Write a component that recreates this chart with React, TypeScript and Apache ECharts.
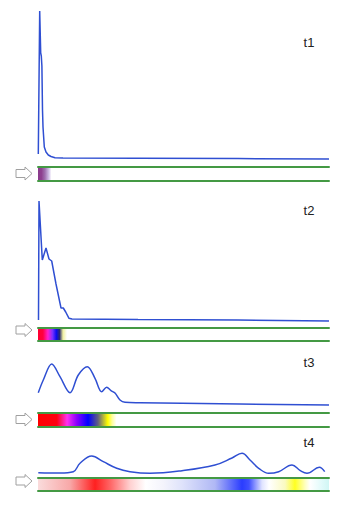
import React, { useEffect, useRef } from "react";
import * as echarts from "echarts";

// ---- data (x: position along the strip, y: intensity) ----
const p1X = [0.3, 1.7, 2.7, 3.3, 3.9, 4.5, 5, 6.3, 8, 10.3, 13, 17, 25, 100, 200, 291];
const p1Y = [6, 149, 107, 104, 94, 50, 33, 13, 8, 5, 3.5, 2.3, 1.9, 1.7, 1.4, 1];

const p2X = [0.5, 1, 4.3, 8, 11, 13.7, 18, 23, 25.3, 27.7, 31, 34, 100, 200, 291];
const p2Y = [2, 121, 62, 74, 63, 61, 38, 14, 14, 10, 3.7, 3, 2.5, 2, 1];

const p3X = [0.3, 5.3, 13.7, 22, 32, 40.3, 49.3, 57, 63.7, 68.7, 73, 77, 82, 87, 102, 144, 291];
const p3Y = [13.3, 26, 42, 29.3, 13.3, 31, 39.3, 27.7, 14.3, 18.7, 15.3, 13, 6, 3.7, 3.3, 2.7, 1];

const p4X = [0.3, 22, 35.3, 42, 53.7, 65.3, 78.7, 92, 112, 144, 177, 194, 204, 212, 220.7, 230.7, 240.7, 254, 262.3, 269, 281.3, 286.7];
const p4Y = [3.3, 3, 4.3, 12.7, 20, 14.3, 7.7, 4.3, 2.7, 5.3, 11, 18, 22.7, 16, 7.7, 2.7, 4.3, 11, 5.3, 2.7, 8.7, 4.3];

const labels = ["t1", "t2", "t3", "t4"];
const yMaxes = [150, 122, 46, 26];
const X_MAX = 291;

const bar1Stops: [number, string][] = [[0, "#8a3a8c"], [0.012, "#8e4090"], [0.024, "#a070b0"], [0.038, "#d4c4ea"], [0.046, "#ffffff"], [1, "#ffffff"]];
const bar2Stops: [number, string][] = [[0, "#ff0030"], [0.017, "#ff0040"], [0.034, "#ff20d0"], [0.05, "#7a30ff"], [0.063, "#0a0af0"], [0.074, "#282870"], [0.086, "#f0f0a0"], [0.1, "#ffffff"], [1, "#ffffff"]];
const bar3Stops: [number, string][] = [[0, "#ff0000"], [0.065, "#ff0010"], [0.1, "#ff30f0"], [0.134, "#8800ff"], [0.172, "#0000ff"], [0.206, "#606080"], [0.24, "#ffff00"], [0.255, "#ffffa0"], [0.27, "#ffffff"], [1, "#ffffff"]];
const bar4Stops: [number, string][] = [[0, "#fadcdc"], [0.11, "#f8a8a8"], [0.196, "#ff2020"], [0.25, "#ff6868"], [0.316, "#ffd0d0"], [0.37, "#ffffff"], [0.43, "#f4f4fc"], [0.495, "#dfe3fb"], [0.608, "#b0b8f5"], [0.701, "#2a3cff"], [0.725, "#4050ff"], [0.77, "#e0e4ff"], [0.794, "#ffffff"], [0.849, "#fafac0"], [0.883, "#ffff20"], [0.918, "#ffffc0"], [0.935, "#ffffff"], [0.976, "#e0fafa"], [1, "#d0f6f4"]];

// ---- layout ----
const LEFT = 38;
const RIGHT = 35;
const lineGrids = [
  { top: 10, height: 150 },
  { top: 200, height: 122 },
  { top: 360, height: 46 },
  { top: 450, height: 26 },
];
const barGrids = [
  { top: 167, height: 13.5 },
  { top: 327.3, height: 13.5 },
  { top: 413, height: 14 },
  { top: 478, height: 13 },
];
const arrowCY = [173.5, 330, 419.5, 481];
const labelPos = [
  [309, 42],
  [309, 210],
  [309, 362],
  [309, 442],
];
const smoothing = [false, false, 0.35, 0.4];

const BLUE = "#2f4fd2";
const GREEN = "#449944";

export default function App() {
  const ref = useRef<HTMLDivElement>(null);
  useEffect(() => {
    if (!ref.current) return;
    const chart = echarts.init(ref.current, null, { renderer: "svg" });
    const xs = [p1X, p2X, p3X, p4X];
    const ys = [p1Y, p2Y, p3Y, p4Y];
    const stops = [bar1Stops, bar2Stops, bar3Stops, bar4Stops];

    const grid: any[] = [];
    const xAxis: any[] = [];
    const yAxis: any[] = [];
    const series: any[] = [];
    const hidden = { show: false };

    for (let i = 0; i < 4; i++) {
      // line grid
      const gi = grid.length;
      grid.push({ left: LEFT, right: RIGHT, top: lineGrids[i].top, height: lineGrids[i].height });
      const xi = xAxis.length;
      xAxis.push({ type: "value", gridIndex: gi, min: 0, max: X_MAX, show: false });
      const yi = yAxis.length;
      yAxis.push({ type: "value", gridIndex: gi, min: 0, max: yMaxes[i], show: false });
      series.push({
        type: "line",
        xAxisIndex: xi,
        yAxisIndex: yi,
        data: xs[i].map((x, k) => [x, ys[i][k]]),
        symbol: "none",
        smooth: smoothing[i],
        lineStyle: { color: BLUE, width: 1.5 },
        silent: true,
      });

      // colour strip grid
      const bgi = grid.length;
      grid.push({ left: LEFT, right: RIGHT, top: barGrids[i].top, height: barGrids[i].height });
      const bxi = xAxis.length;
      const axisBase = {
        type: "value",
        gridIndex: bgi,
        min: 0,
        max: 100,
        z: 5,
        axisLine: { show: true, lineStyle: { color: GREEN, width: 2 } },
        axisTick: hidden,
        axisLabel: hidden,
        splitLine: hidden,
      };
      xAxis.push({ ...axisBase, position: "bottom" });
      xAxis.push({ ...axisBase, position: "top" });
      const byi = yAxis.length;
      yAxis.push({
        type: "category",
        gridIndex: bgi,
        data: ["strip"],
        show: false,
      });
      series.push({
        type: "bar",
        xAxisIndex: bxi,
        yAxisIndex: byi,
        data: [100],
        barWidth: "100%",
        silent: true,
        itemStyle: {
          color: {
            type: "linear",
            x: 0,
            y: 0,
            x2: 1,
            y2: 0,
            colorStops: stops[i].map(([o, c]) => ({ offset: o, color: c })),
          },
        },
      });
    }

    const graphic: any[] = [];
    for (let i = 0; i < 4; i++) {
      const cy = arrowCY[i];
      graphic.push({
        type: "polygon",
        shape: {
          points: [
            [16, cy - 4],
            [25, cy - 4],
            [25, cy - 6.5],
            [32, cy],
            [25, cy + 6.5],
            [25, cy + 4],
            [16, cy + 4],
          ],
        },
        style: { fill: "#ffffff", stroke: "#a0a0a0", lineWidth: 1 },
        silent: true,
      });
      graphic.push({
        type: "text",
        x: labelPos[i][0],
        y: labelPos[i][1],
        style: {
          text: labels[i],
          font: '13px "Liberation Sans", Arial, sans-serif',
          fill: "#222222",
          align: "center",
          verticalAlign: "middle",
        },
        silent: true,
      });
    }

    chart.setOption({
      animation: false,
      backgroundColor: "#ffffff",
      grid,
      xAxis,
      yAxis,
      series,
      graphic,
    });
    return () => chart.dispose();
  }, []);
  return (
    <div
      ref={ref}
      style={{ position: "fixed", left: 0, top: 0, width: 364, height: 512 }}
    />
  );
}
